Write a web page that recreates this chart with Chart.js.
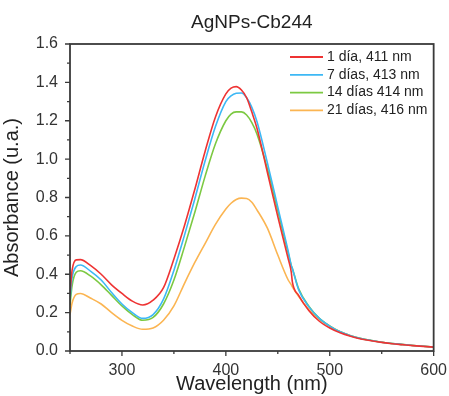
<!DOCTYPE html>
<html>
<head>
<meta charset="utf-8">
<script src="https://cdn.jsdelivr.net/npm/chart.js@4.4.1/dist/chart.umd.min.js"></script>
<style>
  html, body { margin: 0; padding: 0; background: #fff; }
  #wrap { width: 449px; height: 396px; }
</style>
</head>
<body>
<div id="wrap"><canvas id="uvvisChart"></canvas></div>
<script>
// wavelength grid (nm)
const wavelengths = [250, 252, 256, 260, 270, 280, 290, 300, 310, 320, 330, 340, 350, 360, 370, 380, 390,
  400, 405, 410, 415, 420, 425, 430, 440, 450, 460, 463, 464, 470, 480, 490, 500, 510, 520, 530, 540,
  550, 560, 570, 580, 590, 600];

const dia1 = [0.30, 0.42, 0.475, 0.476, 0.445, 0.40, 0.345, 0.30, 0.26, 0.24, 0.265, 0.33, 0.48, 0.65,
  0.84, 1.04, 1.22, 1.34, 1.37, 1.378, 1.36, 1.32, 1.245, 1.16, 0.93, 0.70, 0.48, 0.41, 0.36, 0.29,
  0.21, 0.155, 0.12, 0.095, 0.077, 0.063, 0.053, 0.045, 0.038, 0.033, 0.028, 0.024, 0.02];

const dia7 = [0.27, 0.38, 0.44, 0.448, 0.415, 0.37, 0.305, 0.245, 0.20, 0.17, 0.19, 0.27, 0.42, 0.60,
  0.79, 0.99, 1.17, 1.30, 1.33, 1.343, 1.345, 1.32, 1.27, 1.195, 0.98, 0.75, 0.52, 0.445, 0.43, 0.32,
  0.23, 0.17, 0.13, 0.10, 0.08, 0.065, 0.055, 0.046, 0.039, 0.034, 0.029, 0.025, 0.021];

const dia14 = [0.24, 0.34, 0.41, 0.418, 0.39, 0.345, 0.29, 0.235, 0.19, 0.16, 0.175, 0.245, 0.37, 0.54,
  0.72, 0.91, 1.08, 1.20, 1.235, 1.246, 1.246, 1.23, 1.19, 1.13, 0.95, 0.73, 0.51, 0.445, 0.43, 0.325,
  0.232, 0.17, 0.13, 0.10, 0.08, 0.065, 0.055, 0.046, 0.039, 0.034, 0.029, 0.025, 0.021];

const dia21 = [0.19, 0.25, 0.295, 0.30, 0.275, 0.245, 0.20, 0.16, 0.13, 0.113, 0.12, 0.16, 0.235, 0.35,
  0.46, 0.56, 0.66, 0.74, 0.77, 0.79, 0.797, 0.795, 0.775, 0.735, 0.64, 0.50, 0.37, 0.345, 0.335, 0.285,
  0.215, 0.165, 0.13, 0.10, 0.08, 0.065, 0.055, 0.046, 0.039, 0.034, 0.029, 0.025, 0.021];

const seriesLabels = ["1 día, 411 nm", "7 días, 413 nm", "14 días 414 nm", "21 días, 416 nm"];
const seriesColors = ["#ee3333", "#3db8f5", "#7cc942", "#fbb552"];
const seriesValues = [dia1, dia7, dia14, dia21];

const xMajor = [300, 400, 500, 600];
const xMinor = [250, 350, 450, 550];
const yMajor = [0, 0.2, 0.4, 0.6, 0.8, 1.0, 1.2, 1.4, 1.6];
const yMinor = [0.1, 0.3, 0.5, 0.7, 0.9, 1.1, 1.3, 1.5];

const FONT = '"Liberation Sans", Arial, sans-serif';

const datasets = seriesValues.map((vals, i) => ({
  label: seriesLabels[i],
  data: wavelengths.map((w, j) => ({ x: w, y: vals[j] })),
  borderColor: seriesColors[i],
  backgroundColor: seriesColors[i],
  borderWidth: 1.6,
  pointRadius: 0,
  cubicInterpolationMode: 'monotone',
  fill: false
}));

// title, frame, tick marks and legend inside plot
const frameAndTicks = {
  id: 'frameAndTicks',
  afterDraw(chart) {
    const ctx = chart.ctx;
    const a = chart.chartArea;
    const xs = chart.scales.x, ys = chart.scales.y;
    ctx.save();

    ctx.fillStyle = '#222';
    ctx.font = '19px ' + FONT;
    ctx.textAlign = 'center';
    ctx.textBaseline = 'alphabetic';
    ctx.fillText("AgNPs-Cb244", (a.left + a.right) / 2, 28);

    ctx.strokeStyle = '#3a3a3a';
    ctx.lineWidth = 1.8;
    ctx.strokeRect(a.left, a.top, a.right - a.left, a.bottom - a.top);
    ctx.lineWidth = 1.3;
    ctx.beginPath();
    xMajor.forEach(v => { const p = xs.getPixelForValue(v); ctx.moveTo(p, a.bottom); ctx.lineTo(p, a.bottom + 5); });
    xMinor.forEach(v => { const p = xs.getPixelForValue(v); ctx.moveTo(p, a.bottom); ctx.lineTo(p, a.bottom + 3); });
    yMajor.forEach(v => { const p = ys.getPixelForValue(v); ctx.moveTo(a.left, p); ctx.lineTo(a.left - 5, p); });
    yMinor.forEach(v => { const p = ys.getPixelForValue(v); ctx.moveTo(a.left, p); ctx.lineTo(a.left - 3, p); });
    ctx.stroke();

    // legend
    ctx.font = '14px ' + FONT;
    ctx.textAlign = 'left';
    ctx.textBaseline = 'middle';
    chart.data.datasets.forEach((ds, i) => {
      const y = a.top + 13 + i * 17.8;
      ctx.strokeStyle = ds.borderColor;
      ctx.lineWidth = 1.8;
      ctx.beginPath();
      ctx.moveTo(290, y); ctx.lineTo(323, y);
      ctx.stroke();
      ctx.fillText(ds.label, 327, y);
    });
    ctx.restore();
  }
};

new Chart("uvvisChart", {
  type: "line",
  data: { datasets: datasets },
  options: {
    responsive: true,
    maintainAspectRatio: false,
    animation: false,
    layout: { padding: { top: 44, right: 12, left: 0, bottom: 0 } },
    plugins: {
      legend: { display: false },
      tooltip: { enabled: false },
      title: { display: false }
    },
    scales: {
      x: {
        type: 'linear',
        min: 250,
        max: 600,
        afterFit: s => { s.height = 45; },
        grid: { display: false },
        border: { display: false },
        ticks: {
          stepSize: 100,
          padding: 2,
          color: '#333',
          maxRotation: 0,
          font: { family: FONT, size: 16 },
          callback: v => (v % 100 === 0 && v >= 300) ? String(v) : ''
        },
        title: {
          display: true,
          text: "Wavelength (nm)",
          color: '#222',
          padding: { top: 0, bottom: 0 },
          font: { family: FONT, size: 20 }
        }
      },
      y: {
        min: 0,
        max: 1.6,
        afterFit: s => { s.width = 70; },
        grid: { display: false },
        border: { display: false },
        ticks: {
          stepSize: 0.2,
          padding: 4,
          color: '#333',
          font: { family: FONT, size: 16 },
          callback: v => v.toFixed(1)
        },
        title: {
          display: true,
          text: "Absorbance (u.a.)",
          color: '#222',
          padding: { top: 0, bottom: 0 },
          font: { family: FONT, size: 20 }
        }
      }
    }
  },
  plugins: [frameAndTicks]
});
</script>
</body>
</html>
